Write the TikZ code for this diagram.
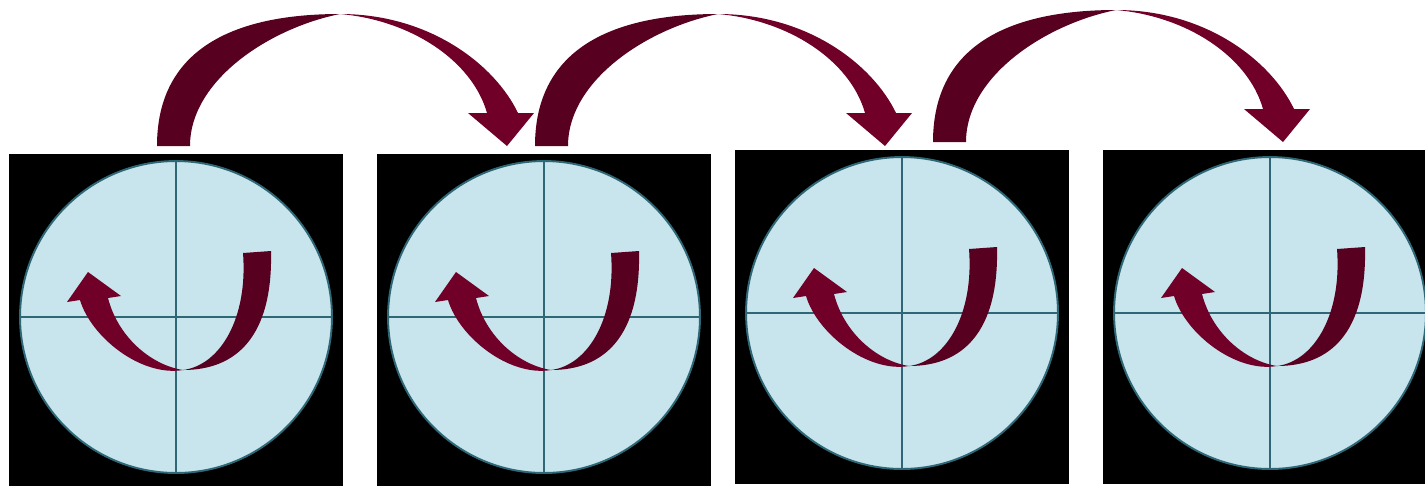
\documentclass[tikz,border=0pt]{standalone}
\usepackage{tikz}
\definecolor{dialfill}{RGB}{200,228,236}
\definecolor{dialline}{RGB}{46,104,118}
\definecolor{ribbonfront}{RGB}{112,0,40}
\definecolor{ribbonback}{RGB}{88,0,32}
\tikzset{panelbox/.style={rectangle,fill=black,inner sep=0pt,minimum width=6.68cm,minimum height=6.68cm}}
\tikzset{dial/.style={circle,draw=dialline,fill=dialfill,line width=1.1pt,inner sep=0pt,minimum size=6.24cm}}
\tikzset{crossline/.style={draw=dialline,line width=1.1pt}}
% one black panel with its dial and the twisted turn arrow (origin = dial centre)
\tikzset{dialpanel/.pic={
  \node[panelbox] (-box) at (0,4) {};
  \node[dial] (-dial) at (0,0) {};
  \draw[crossline] (-dial.north) -- (-dial.south);
  \draw[crossline] (-dial.west) -- (-dial.east);
  \fill[ribbonback] (7,53) .. controls (60,53) and (97,20) .. (95,-66) -- (67,-64)
    .. controls (72,0) and (45,48) .. (7,53) -- cycle;
  \fill[ribbonfront] (7,53) .. controls (-35,60) and (-85,20) .. (-96,-17) -- (-109,-15)
    -- (-88,-45) -- (-55,-21) -- (-68,-19) .. controls (-58,20) and (-25,48) .. (7,53) -- cycle;
}}
% big hop arrow over two panels (origin = top twist)
\tikzset{hoparrow/.pic={
  \fill[ribbonback] (-183,132) .. controls (-183,31) and (-100,0) .. (0,0)
    .. controls (-70,14) and (-150,66) .. (-150,132) -- cycle;
  \fill[ribbonfront] (0,0) .. controls (90,0) and (155,51) .. (178,99) -- (194,99)
    -- (167,132) -- (128,99) -- (147,99) .. controls (132,46) and (70,6) .. (0,0) -- cycle;
}}

\begin{document}
\begin{tikzpicture}[x=0.02cm,y=-0.02cm]
\useasboundingbox (0,0) rectangle (1425,485);

% Four panels, left to right
\pic (d1) at (176,317) {dialpanel};
\pic (d2) at (544,317) {dialpanel};
\pic (d3) at (902,313) {dialpanel};
\pic (d4) at (1270,313) {dialpanel};

% Hop arrows between the panels
\pic (h1) at (340,14) {hoparrow};
\pic (h2) at (718,14) {hoparrow};
\pic (h3) at (1116,10) {hoparrow};

\end{tikzpicture}
\end{document}
